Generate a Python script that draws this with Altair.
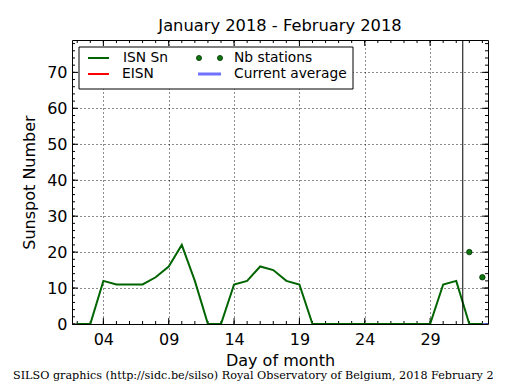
import altair as alt
import pandas as pd

# ---- data ----
days = list(range(2, 34))
isn = [0, 0, 12, 11, 11, 11, 13, 16, 22, 12, 0, 0, 11, 12, 16, 15, 12, 11,
       0, 0, 0, 0, 0, 0, 0, 0, 0, 0, 11, 12, 0, 0]
nb_days = [32, 33]
nb_vals = [20, 13]
eisn_days = [32, 33]
eisn_vals = [0, 0]
avg_days = [32, 34]
avg_vals = [0, 0]
month_break = [31.5]
x_major = [4, 9, 14, 19, 24, 29]
x_minor = list(range(2, 34))
y_major = [0, 10, 20, 30, 40, 50, 60, 70]
y_minor = list(range(0, 80, 2))
title_text = "January 2018 - February 2018"
footer_text = "SILSO graphics (http://sidc.be/silso) Royal Observatory of Belgium, 2018 February 2"

W, H = 416, 284
FONT = "DejaVu Sans"

xscale = alt.Scale(domain=[1.6, 33.43], nice=False, zero=False)
yscale = alt.Scale(domain=[0, 79], nice=False, zero=False)
xaxis = alt.Axis(values=x_major, labelExpr="datum.value < 10 ? '0' + datum.value : '' + datum.value",
                 title="Day of month", grid=True, gridDash=[1, 3], gridColor="black", gridOpacity=0.9,
                 ticks=False, domain=False, labelPadding=7, labelFont=FONT, labelFontSize=16,
                 labelColor="black", titleFont=FONT, titleFontSize=16, titleFontWeight="normal",
                 titleColor="black", titlePadding=5, labelFlush=False)
yaxis = alt.Axis(values=y_major, title="Sunspot Number", grid=True, gridDash=[1, 3], gridColor="black",
                 gridOpacity=0.9, ticks=False, domain=False, labelPadding=5, labelFont=FONT,
                 labelFontSize=16, labelColor="black", titleFont=FONT, titleFontSize=16,
                 titleFontWeight="normal", titleColor="black", titlePadding=9, labelFlush=False)
X = alt.X("day:Q", scale=xscale, axis=xaxis)
Y = alt.Y("val:Q", scale=yscale, axis=yaxis)

df_isn = pd.DataFrame({"day": days, "val": isn})
df_nb = pd.DataFrame({"day": nb_days, "val": nb_vals})
df_eisn = pd.DataFrame({"day": eisn_days, "val": eisn_vals})
df_avg = pd.DataFrame({"day": avg_days, "val": avg_vals})
df_break = pd.DataFrame({"day": month_break})
df_xmaj = pd.DataFrame({"day": x_major})
df_xmin = pd.DataFrame({"day": x_minor})
df_ymaj = pd.DataFrame({"val": y_major})
df_ymin = pd.DataFrame({"val": y_minor})

one = pd.DataFrame({"t": [""]})

layers = []
# inward ticks
layers.append(alt.Chart(df_xmin).mark_rule(color="black", strokeWidth=1).encode(x=X, y=alt.value(H), y2=alt.value(H - 3)))
layers.append(alt.Chart(df_xmaj).mark_rule(color="black", strokeWidth=1).encode(x=X, y=alt.value(H), y2=alt.value(H - 6)))
layers.append(alt.Chart(df_xmin).mark_rule(color="black", strokeWidth=1).encode(x=X, y=alt.value(0), y2=alt.value(3)))
layers.append(alt.Chart(df_xmaj).mark_rule(color="black", strokeWidth=1).encode(x=X, y=alt.value(0), y2=alt.value(6)))
layers.append(alt.Chart(df_ymin).mark_rule(color="black", strokeWidth=1).encode(y=Y, x=alt.value(0), x2=alt.value(3)))
layers.append(alt.Chart(df_ymaj).mark_rule(color="black", strokeWidth=1).encode(y=Y, x=alt.value(0), x2=alt.value(6)))
layers.append(alt.Chart(df_ymin).mark_rule(color="black", strokeWidth=1).encode(y=Y, x=alt.value(W), x2=alt.value(W - 3)))
layers.append(alt.Chart(df_ymaj).mark_rule(color="black", strokeWidth=1).encode(y=Y, x=alt.value(W), x2=alt.value(W - 6)))

# data
layers.append(alt.Chart(df_eisn).mark_line(color="red", strokeWidth=2, clip=True).encode(x=X, y=Y))
layers.append(alt.Chart(df_avg).mark_line(color="#6666ff", strokeWidth=2, opacity=0.6, clip=True).encode(x=X, y=Y))
layers.append(alt.Chart(df_isn).mark_line(color="#006400", strokeWidth=2, clip=True).encode(x=X, y=Y))
layers.append(alt.Chart(df_break).mark_rule(color="black", strokeWidth=1).encode(x=X))
layers.append(alt.Chart(df_nb).mark_point(filled=True, fill="#107510", stroke="#003300", strokeWidth=0.8,
                                          size=30, opacity=1, shape="circle").encode(x=X, y=Y))

# legend
layers.append(alt.Chart(one).mark_rect(fill="white", stroke="black", strokeWidth=1).encode(
    x=alt.value(7), x2=alt.value(281), y=alt.value(7), y2=alt.value(49)))
layers.append(alt.Chart(one).mark_rule(color="#006400", strokeWidth=2).encode(x=alt.value(16), x2=alt.value(37), y=alt.value(18)))
layers.append(alt.Chart(one).mark_rule(color="red", strokeWidth=2).encode(x=alt.value(16), x2=alt.value(37), y=alt.value(34)))
layers.append(alt.Chart(one).mark_rule(color="#7070ff", strokeWidth=3).encode(x=alt.value(126), x2=alt.value(149), y=alt.value(34)))
for px in (127, 148):
    layers.append(alt.Chart(one).mark_point(filled=True, fill="#107510", stroke="#003300", strokeWidth=0.8,
                                            size=26, opacity=1, shape="circle").encode(x=alt.value(px), y=alt.value(18)))
leg_entries = [("ISN Sn", 51, 18), ("EISN", 50, 34), ("Nb stations", 162, 18), ("Current average", 162, 34)]
for label, px, py in leg_entries:
    layers.append(alt.Chart(pd.DataFrame({"t": [label]})).mark_text(
        align="left", baseline="middle", font=FONT, fontSize=13.8, color="black").encode(
        text="t:N", x=alt.value(px), y=alt.value(py)))

# title & footer
layers.append(alt.Chart(pd.DataFrame({"t": [title_text]})).mark_text(
    align="center", baseline="middle", font=FONT, fontSize=16.3, color="black").encode(
    text="t:N", x=alt.value(W / 2), y=alt.value(-14)))
layers.append(alt.Chart(pd.DataFrame({"t": [footer_text]})).mark_text(
    align="left", baseline="middle", font="DejaVu Serif", fontSize=11.2, color="black").encode(
    text="t:N", x=alt.value(-59), y=alt.value(336)))

chart = alt.layer(*layers).properties(
    width=W, height=H, autosize="none",
    padding={"left": 64, "top": 32, "right": 19, "bottom": 57},
    background="white",
).configure_view(stroke="black", strokeWidth=1)

chart.save("out.html", embed_options={"renderer": "svg", "actions": False})
